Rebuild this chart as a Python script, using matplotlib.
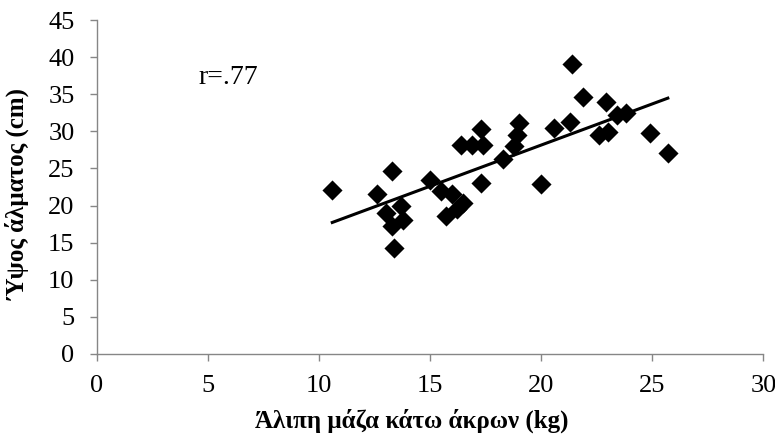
import numpy as np
import matplotlib
matplotlib.use("Agg")
import matplotlib.pyplot as plt

# lean mass of lower limbs (kg) vs jump height (cm)
lean_mass = [10.6, 12.6, 13.3, 13.4, 13.0, 13.7, 13.8, 13.3, 15.0, 15.5,
             16.0, 16.5, 16.2, 15.7, 16.4, 16.9, 17.4, 17.3, 17.3, 18.3,
             18.8, 18.9, 19.0, 20.0, 20.6, 21.3, 21.4, 21.9, 22.9, 22.6,
             23.0, 23.4, 23.8, 24.9, 25.7]
jump_height = [22.1, 21.6, 24.6, 14.3, 19.0, 20.0, 18.0, 17.2, 23.4, 22.0,
               21.6, 20.3, 19.6, 18.6, 28.1, 28.2, 28.2, 30.3, 23.0, 26.3,
               28.0, 29.5, 31.1, 22.9, 30.5, 31.2, 39.1, 34.6, 33.9, 29.5,
               29.9, 32.2, 32.5, 29.8, 27.1]
xticks = [0, 5, 10, 15, 20, 25, 30]
yticks = [0, 5, 10, 15, 20, 25, 30, 35, 40, 45]
r_label = "r=.77"

plt.rcParams['font.family'] = ['Liberation Serif', 'DejaVu Serif']

fig = plt.figure(figsize=(7.75, 4.38), dpi=100)
ax = fig.add_axes([0.1248, 0.192, 0.8602, 0.762])

x = np.array(lean_mass)
y = np.array(jump_height)
ax.scatter(x, y, marker='D', s=105, color='black', linewidths=0, zorder=3)

# linear trendline over the data range
k, b = np.polyfit(x, y, 1)
tx = np.array([x.min(), x.max()])
ax.plot(tx, k * tx + b, color='black', lw=2.2, zorder=4)

ax.text(4.6, 37.2, r_label, fontsize=20, va='center', ha='left')

ax.set_xlim(0, 30)
ax.set_ylim(0, 45)
ax.set_xticks(xticks)
ax.set_yticks(yticks)
for s in ['top', 'right']:
    ax.spines[s].set_visible(False)
for s in ['left', 'bottom']:
    ax.spines[s].set_color('#868686')
    ax.spines[s].set_linewidth(1.0)
ax.tick_params(axis='both', direction='out', length=5, width=1.0,
               color='#868686', labelsize=19)
ax.tick_params(axis='y', pad=11)
ax.tick_params(axis='x', pad=10)

ax.set_xlabel("Άλιπη μάζα κάτω άκρων (kg)", fontsize=18, fontweight='bold')
ax.set_ylabel("Ύψος άλματος (cm)", fontsize=18, fontweight='bold')
ax.xaxis.set_label_coords(0.472, -0.165)
ax.yaxis.set_label_coords(-0.10, 0.48)

fig.savefig("out.png", dpi=100)
